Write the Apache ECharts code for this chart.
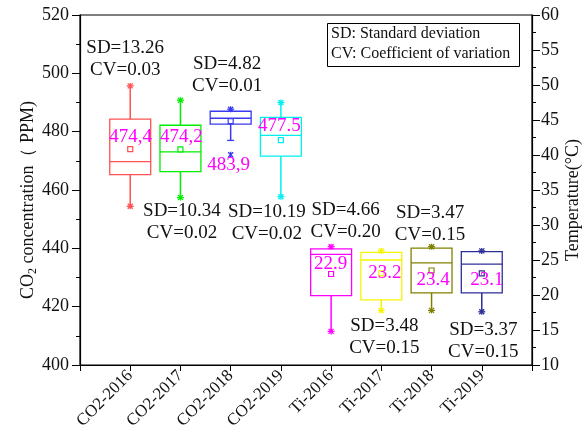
<!DOCTYPE html>
<html><head><meta charset="utf-8">
<script src="https://cdn.jsdelivr.net/npm/echarts@6/dist/echarts.min.js"></script>
<style>html,body{margin:0;padding:0;background:#fff}#c{width:587px;height:442px}</style>
</head><body><div id="c"></div>
<script>
// ---- data ----
const categories = ['CO2-2016','CO2-2017','CO2-2018','CO2-2019','Ti-2016','Ti-2017','Ti-2018','Ti-2019'];
const whiskerLow  = [454.4, 457.4, 477.0, 457.7, 14.8, 17.8, 17.8, 17.6];
const q1          = [465.3, 466.3, 482.6, 471.6, 19.9, 19.3, 20.3, 20.3];
const median      = [469.7, 473.1, 484.6, 478.7, 25.8, 25.0, 24.6, 24.4];
const q3          = [484.3, 482.2, 487.0, 484.9, 26.6, 26.1, 26.7, 26.2];
const whiskerHigh = [495.7, 490.8, 487.7, 490.0, 26.9, 26.3, 26.9, 26.3];
const meanV       = [474.0, 473.9, 483.6, 477.1, 23.0, 23.1, 23.5, 23.1];
const minMark     = [454.4, 457.4, 472.1, 457.7, 14.8, 17.8, 17.8, 17.6];
const maxMark     = [495.7, 490.8, 487.7, 490.0, 26.9, 26.3, 26.9, 26.3];
const meanLabels  = ['474,4','474,2','483,9','477.5','22.9','23.2','23.4','23.1'];
const sdValues    = ['13.26','10.34','4.82','10.19','4.66','3.48','3.47','3.37'];
const cvValues    = ['0.03','0.02','0.01','0.02','0.20','0.15','0.15','0.15'];
const leftTicks   = [400, 520, 20];
const rightTicks  = [10, 60, 5];

// ---- styles / layout ----
const colors = ['#FF5252','#00EE00','#3A3AF0','#00F0F0','#FF00FF','#F5F500','#808000','#2E2E9A'];
// annotation anchors in (category position, left-axis value)
const sdPos   = [[0.90,505.0],[2.03,449.1],[2.93,499.5],[3.72,448.6],[5.29,449.2],[6.06,409.6],[6.97,448.3],[8.03,408.3]];
const meanPos = [[1.01,478.3],[2.02,478.3],[2.96,468.4],[3.97,481.9],[4.99,434.6],[6.07,431.5],[7.03,429.2],[8.10,429.2]];
const FONT = "'Liberation Serif','Times New Roman',serif";

function boxData(from, to) {
  const out = [];
  for (let i = from; i < to; i++) {
    out.push([i + 1, whiskerLow[i], q1[i], median[i], q3[i], whiskerHigh[i], meanV[i], minMark[i], maxMark[i]]);
  }
  return out;
}

function star(cx, cy, c) {
  const r = 2.5;
  return [
    {type:'line', shape:{x1:cx, y1:cy-r-0.5, x2:cx, y2:cy+r+0.5}, style:{stroke:c, lineWidth:1.3}},
    {type:'line', shape:{x1:cx-r, y1:cy-r, x2:cx+r, y2:cy+r}, style:{stroke:c, lineWidth:1.3}},
    {type:'line', shape:{x1:cx-r, y1:cy+r, x2:cx+r, y2:cy-r}, style:{stroke:c, lineWidth:1.3}}
  ];
}

function renderBox(params, api) {
  const i = api.value(0);
  const c = colors[i - 1];
  const x = api.coord([i, api.value(2)])[0];
  const Y = k => api.coord([i, api.value(k)])[1];
  const w = api.size([1, 0])[0] * 0.815;
  const yWl = Y(1), yQ1 = Y(2), yMed = Y(3), yQ3 = Y(4), yWh = Y(5), yMean = Y(6), yMin = Y(7), yMax = Y(8);
  const cap = 3.5;
  const ch = [
    {type:'line', shape:{x1:x, y1:yQ3, x2:x, y2:yWh}, style:{stroke:c, lineWidth:1.5}},
    {type:'line', shape:{x1:x, y1:yQ1, x2:x, y2:yWl}, style:{stroke:c, lineWidth:1.5}},
    {type:'line', shape:{x1:x-cap, y1:yWh, x2:x+cap, y2:yWh}, style:{stroke:c, lineWidth:1.3}},
    {type:'line', shape:{x1:x-cap, y1:yWl, x2:x+cap, y2:yWl}, style:{stroke:c, lineWidth:1.3}},
    {type:'rect', shape:{x:x-w/2, y:yQ3, width:w, height:yQ1-yQ3}, style:{fill:'none', stroke:c, lineWidth:1.3}},
    {type:'line', shape:{x1:x-w/2, y1:yMed, x2:x+w/2, y2:yMed}, style:{stroke:c, lineWidth:1.3}},
    {type:'rect', shape:{x:x-2.5, y:yMean-2.5, width:5, height:5}, style:{fill:'#fff', stroke:c, lineWidth:1.2}}
  ];
  return {type:'group', children: ch.concat(star(x, yMin, c), star(x, yMax, c))};
}

const textData = [];
for (let i = 0; i < categories.length; i++) {
  textData.push([sdPos[i][0], sdPos[i][1], 'SD=' + sdValues[i] + '\nCV=' + cvValues[i], 0]);
  textData.push([meanPos[i][0], meanPos[i][1], meanLabels[i], 1]);
}

function renderText(params, api) {
  const p = api.coord([api.value(0), api.value(1)]);
  const kind = api.value(3);
  return {
    type:'text', x:p[0], y:p[1], z2: 10,
    style:{
      text: textData[params.dataIndex][2],
      fill: kind === 1 ? '#FF00FF' : '#111',
      font: '19px ' + FONT,
      lineHeight: 22,
      align:'center', verticalAlign:'middle'
    }
  };
}

const chart = echarts.init(document.getElementById('c'), null, {renderer:'canvas'});
chart.setOption({
  backgroundColor:'#fff',
  animation:false,
  grid:{left:80, right:55, top:15, bottom:77, outerBoundsMode:'none', containLabel:false,
        show:true, borderColor:'#000', borderWidth:1.2, backgroundColor:'transparent'},
  xAxis:{
    type:'value', min:0, max:9, interval:1,
    axisLine:{lineStyle:{color:'#000', width:1.2}},
    axisTick:{show:true, inside:false, length:6, lineStyle:{color:'#000'}},
    splitLine:{show:false},
    axisLabel:{
      rotate:45, fontSize:17, fontFamily:FONT, color:'#111', margin:8,
      formatter: v => categories[v - 1] || ''
    }
  },
  yAxis:[
    {
      type:'value', min:leftTicks[0], max:leftTicks[1], interval:leftTicks[2], position:'left',
      name:'{a|CO}{s|2}{a| concentration\uFF08 PPM)}', nameLocation:'middle', nameGap:41, nameMoveOverlap:false,
      nameTextStyle:{fontFamily:FONT, color:'#111', padding:[0,20,0,0], rich:{
        a:{fontSize:18, fontFamily:FONT, color:'#111', lineHeight:22},
        s:{fontSize:12, fontFamily:FONT, color:'#111', verticalAlign:'bottom', lineHeight:14}
      }},
      axisLine:{show:true, lineStyle:{color:'#000', width:1.2}},
      axisTick:{show:true, length:8, lineStyle:{color:'#000'}},
      minorTick:{show:true, splitNumber:2, length:4, lineStyle:{color:'#000'}},
      splitLine:{show:false},
      axisLabel:{fontSize:18, fontFamily:FONT, color:'#111', margin:11}
    },
    {
      type:'value', min:rightTicks[0], max:rightTicks[1], interval:rightTicks[2], position:'right',
      name:'Temperature(\u00B0C)', nameLocation:'middle', nameGap:32, nameRotate:90, nameMoveOverlap:false,
      nameTextStyle:{fontSize:18, fontFamily:FONT, color:'#111', padding:[0,20,0,0]},
      axisLine:{show:true, lineStyle:{color:'#000', width:1.2}},
      axisTick:{show:true, length:8, lineStyle:{color:'#000'}},
      minorTick:{show:true, splitNumber:2, length:4, lineStyle:{color:'#000'}},
      splitLine:{show:false},
      axisLabel:{fontSize:18, fontFamily:FONT, color:'#111', margin:9}
    }
  ],
  series:[
    {type:'custom', name:'CO2', xAxisIndex:0, yAxisIndex:0, renderItem:renderBox, data:boxData(0,4), clip:false},
    {type:'custom', name:'Ti', xAxisIndex:0, yAxisIndex:1, renderItem:renderBox, data:boxData(4,8), clip:false},
    {type:'custom', name:'labels', xAxisIndex:0, yAxisIndex:0, renderItem:renderText,
      data:textData.map(d => [d[0], d[1], 0, d[3]]), z:10, clip:false}
  ],
  graphic:[
    {type:'rect', left:327, top:23, shape:{width:192, height:43}, style:{fill:'#fff', stroke:'#000', lineWidth:1}},
    {type:'text', left:331, top:26, style:{text:'SD: Standard deviation', font:'16px ' + FONT, fill:'#111'}},
    {type:'text', left:331, top:46, style:{text:'CV: Coefficient of variation', font:'16px ' + FONT, fill:'#111'}}
  ]
});
</script>
</body></html>
